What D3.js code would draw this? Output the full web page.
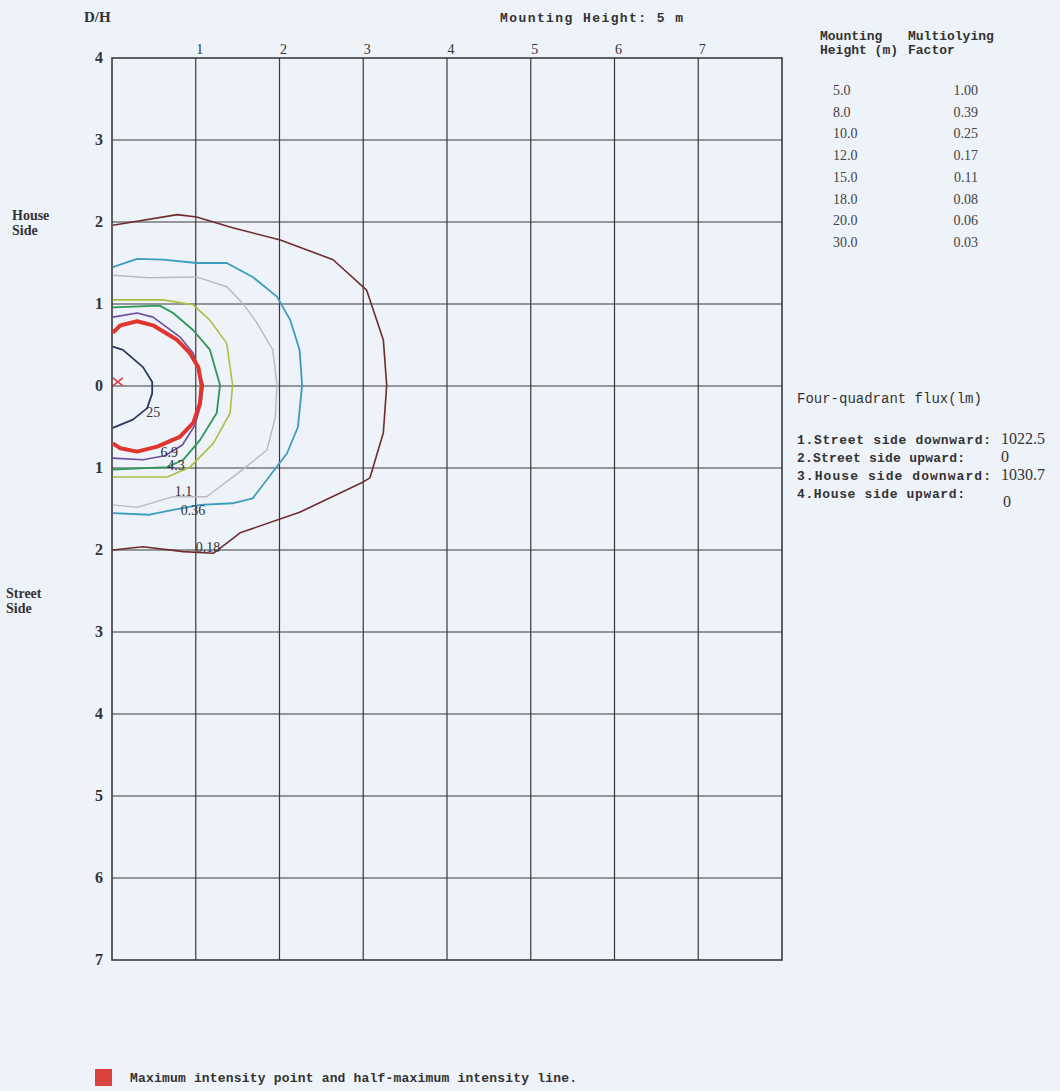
<!DOCTYPE html>
<html><head><meta charset="utf-8">
<script src="https://cdn.jsdelivr.net/npm/d3@7"></script>
<style>
html,body{margin:0;padding:0;background:#eef2f9;}
svg{display:block;}
</style></head>
<body>
<svg id="c" width="1060" height="1091"></svg>
<script>
// ---------- data ----------
const xTicks = [1,2,3,4,5,6,7];
const yTicks = [4,3,2,1,0,-1,-2,-3,-4,-5,-6,-7];
const heights = ["5.0","8.0","10.0","12.0","15.0","18.0","20.0","30.0"];
const factors = ["1.00","0.39","0.25","0.17","0.11","0.08","0.06","0.03"];
const fluxLabels = ["1.Street side downward:","2.Street side upward:","3.House side downward:","4.House side upward:"];
const fluxValues = ["1022.5","0","1030.7","0"];

const c018 = [[0.01,1.96],[0.78,2.09],[1.01,2.06],[1.44,1.93],[2.01,1.78],[2.64,1.54],[3.04,1.17],[3.24,0.56],[3.28,0.01],[3.24,-0.57],[3.08,-1.12],[3.00,-1.17],[2.24,-1.54],[1.53,-1.79],[1.21,-2.04],[0.85,-2.02],[0.37,-1.96],[0.01,-2.00]];
const c036 = [[0.01,1.45],[0.30,1.55],[0.61,1.54],[1.01,1.50],[1.37,1.50],[1.68,1.33],[1.97,1.09],[2.13,0.80],[2.24,0.44],[2.27,0.01],[2.22,-0.50],[2.09,-0.82],[1.68,-1.37],[1.44,-1.43],[1.05,-1.45],[0.73,-1.51],[0.45,-1.57],[0.01,-1.55]];
const c11 = [[0.01,1.35],[0.45,1.32],[1.01,1.33],[1.37,1.21],[1.56,1.01],[1.73,0.77],[1.92,0.44],[1.97,0.01],[1.95,-0.38],[1.85,-0.78],[1.56,-1.02],[1.13,-1.35],[0.73,-1.35],[0.30,-1.48],[0.01,-1.45]];
const cYG = [[0.01,1.05],[0.61,1.05],[0.97,0.99],[1.17,0.80],[1.37,0.52],[1.44,0.01],[1.41,-0.33],[1.21,-0.70],[0.93,-0.99],[0.66,-1.11],[0.01,-1.11]];
const c43 = [[0.01,0.96],[0.57,0.98],[0.73,0.89],[0.97,0.68],[1.17,0.44],[1.29,0.01],[1.25,-0.33],[1.05,-0.66],[0.85,-0.90],[0.66,-0.99],[0.01,-1.02]];
const c69 = [[0.01,0.84],[0.30,0.89],[0.49,0.84],[0.81,0.60],[0.97,0.40],[1.09,0.01],[1.06,-0.23],[0.99,-0.48],[0.84,-0.72],[0.63,-0.85],[0.37,-0.90],[0.01,-0.88]];
const cHalf = [[0.01,0.65],[0.10,0.74],[0.30,0.79],[0.49,0.74],[0.78,0.56],[0.93,0.40],[1.03,0.23],[1.07,0.01],[1.05,-0.21],[0.97,-0.45],[0.81,-0.62],[0.54,-0.74],[0.30,-0.80],[0.10,-0.76],[0.01,-0.70]];
const c25 = [[0.01,0.48],[0.13,0.44],[0.37,0.23],[0.48,0.05],[0.48,-0.09],[0.42,-0.27],[0.25,-0.41],[0.01,-0.51]];
const maxPoint = [0.07,0.05];
const contourLabels = [
  {t:"25", p:[0.41,-0.38]},
  {t:"6.9", p:[0.58,-0.86]},
  {t:"4.3", p:[0.66,-1.02]},
  {t:"1.1", p:[0.75,-1.34]},
  {t:"0.36", p:[0.82,-1.57]},
  {t:"0.18", p:[1.00,-2.03]}
];

// ---------- drawing ----------
const svg = d3.select("#c");
const x = d3.scaleLinear().domain([0,8]).range([112,782]);
const y = d3.scaleLinear().domain([4,-7]).range([58,960]);
const serif = "'Liberation Serif','DejaVu Serif',serif";
const mono = "'Liberation Mono','DejaVu Sans Mono',monospace";

svg.append("rect").attr("width",1060).attr("height",1091).attr("fill","#eef2f9");

// grid
const g = svg.append("g");
g.selectAll("line.v").data(xTicks).join("line")
  .attr("x1",d=>x(d)).attr("x2",d=>x(d)).attr("y1",y(4)).attr("y2",y(-7))
  .attr("stroke","#3a3a3a").attr("stroke-width",1.2);
g.selectAll("line.h").data(yTicks.slice(1,-1)).join("line")
  .attr("x1",x(0)).attr("x2",x(8)).attr("y1",d=>y(d)).attr("y2",d=>y(d))
  .attr("stroke","#3a3a3a").attr("stroke-width",1.2);
g.append("rect").attr("x",x(0)).attr("y",y(4)).attr("width",x(8)-x(0)).attr("height",y(-7)-y(4))
  .attr("fill","none").attr("stroke","#3a3a3a").attr("stroke-width",1.6);

// axis labels
svg.selectAll("text.xt").data(xTicks).join("text")
  .attr("x",d=>x(d)+4).attr("y",y(4)-4).attr("text-anchor","middle")
  .attr("font-family",serif).attr("font-size",14).attr("fill","#333").text(d=>d);
svg.selectAll("text.yt").data(yTicks).join("text")
  .attr("x",99).attr("y",d=>y(d)+5).attr("text-anchor","middle")
  .attr("font-family",serif).attr("font-size",16).attr("font-weight","bold").attr("fill","#333").text(d=>Math.abs(d));

// contours
const line = d3.line().x(d=>x(d[0])).y(d=>y(d[1]));
const contours = [
  {d:c018, col:"#6e2c2c", w:1.6},
  {d:c036, col:"#3b9cc0", w:1.8},
  {d:c11, col:"#b9b9c2", w:1.4},
  {d:cYG, col:"#a9c043", w:1.6},
  {d:c43, col:"#2b9a55", w:1.8},
  {d:c69, col:"#6a4c9e", w:1.6},
  {d:cHalf, col:"#e0352e", w:4},
  {d:c25, col:"#2a3a5e", w:1.8}
];
svg.append("g").selectAll("path").data(contours).join("path")
  .attr("d",d=>line(d.d)).attr("fill","none").attr("stroke",d=>d.col)
  .attr("stroke-width",d=>d.w).attr("stroke-linejoin","round");

// max point marker
const mx = x(maxPoint[0]), my = y(maxPoint[1]);
svg.append("path").attr("d",`M${mx-5},${my-4}L${mx+5},${my+4}M${mx-5},${my+4}L${mx+5},${my-4}`)
  .attr("stroke","#d94040").attr("stroke-width",1.6);

// contour labels
svg.selectAll("text.cl").data(contourLabels).join("text")
  .attr("x",d=>x(d.p[0])).attr("y",d=>y(d.p[1]))
  .attr("font-family",serif).attr("font-size",14).attr("fill","#333").text(d=>d.t);

// titles
svg.append("text").attr("x",84).attr("y",22).attr("font-family",serif).attr("font-size",15).attr("font-weight","bold").attr("fill","#333").text("D/H");
svg.append("text").attr("x",500).attr("y",22).attr("font-family",mono).attr("font-size",13).attr("font-weight","bold").attr("fill","#333")
  .attr("textLength",183).text("Mounting Height:  5 m");
svg.append("text").attr("font-family",serif).attr("font-size",14).attr("font-weight","bold").attr("fill","#333")
  .selectAll("tspan").data(["House","Side"]).join("tspan").attr("x",12).attr("y",(d,i)=>220+i*15).text(d=>d);
svg.append("text").attr("font-family",serif).attr("font-size",14).attr("font-weight","bold").attr("fill","#333")
  .selectAll("tspan").data(["Street","Side"]).join("tspan").attr("x",6).attr("y",(d,i)=>598+i*15).text(d=>d);

// factor table
const tbl = svg.append("g").attr("font-family",mono).attr("font-size",13).attr("font-weight","bold").attr("fill","#333");
tbl.append("text").attr("x",820).attr("y",40).text("Mounting");
tbl.append("text").attr("x",820).attr("y",54).text("Height (m)");
tbl.append("text").attr("x",908).attr("y",40).text("Multiolying");
tbl.append("text").attr("x",908).attr("y",54).text("Factor");
svg.selectAll("text.h").data(heights).join("text")
  .attr("x",833).attr("y",(d,i)=>95+i*21.7).attr("font-family",serif).attr("font-size",14).attr("fill","#444").text(d=>d);
svg.selectAll("text.f").data(factors).join("text")
  .attr("x",978).attr("y",(d,i)=>95+i*21.7).attr("text-anchor","end").attr("font-family",serif).attr("font-size",14).attr("fill","#444").text(d=>d);

// flux
svg.append("text").attr("x",797).attr("y",403).attr("font-family",mono).attr("font-size",14).attr("fill","#333").text("Four-quadrant flux(lm)");
const fluxLen = [194,168,194,168];
svg.selectAll("text.fl").data(fluxLabels).join("text")
  .attr("x",797).attr("y",(d,i)=>444+i*18).attr("font-family",mono).attr("font-size",13).attr("font-weight","bold").attr("fill","#333")
  .attr("textLength",(d,i)=>fluxLen[i]).text(d=>d);
svg.selectAll("text.fv").data(fluxValues).join("text")
  .attr("x",(d,i)=>i===3?1003:1001).attr("y",(d,i)=>444+i*18+(i===3?9:0)).attr("font-family",serif).attr("font-size",16).attr("fill","#333").text(d=>d);

// legend
svg.append("rect").attr("x",95).attr("y",1069).attr("width",17).attr("height",17).attr("fill","#d9413c");
svg.append("text").attr("x",130).attr("y",1082).attr("font-family",mono).attr("font-size",13).attr("font-weight","bold").attr("fill","#333")
  .attr("textLength",447).text("Maximum intensity point and half-maximum intensity line.");
</script>
</body></html>
